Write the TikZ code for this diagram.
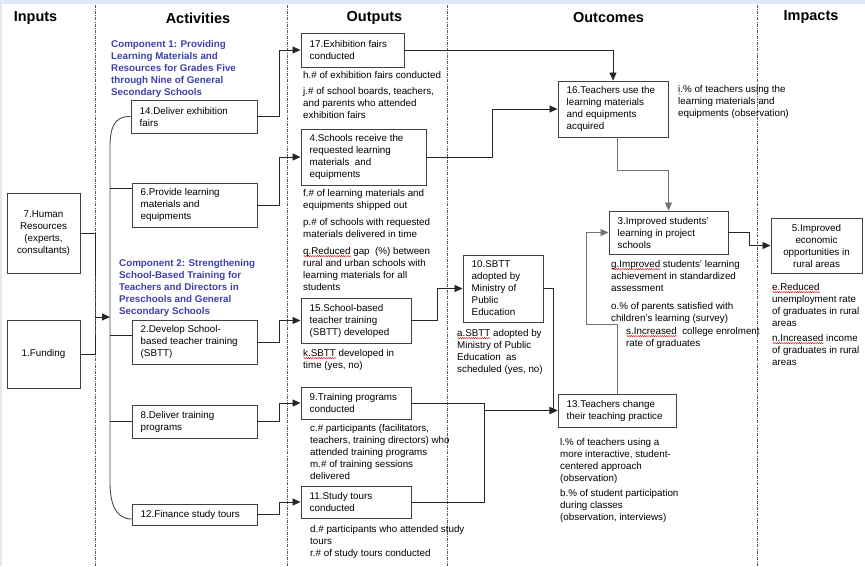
\documentclass[tikz,border=0pt]{standalone}
\usepackage{fontspec}
\setmainfont{Liberation Sans}
\usetikzlibrary{arrows.meta,calc,decorations.pathmorphing}

\definecolor{compblue}{RGB}{64,64,172}
\definecolor{framebg}{RGB}{222,233,245}

\tikzset{
  spellmark/.style={draw=red!85!black, line width=0.4pt, decorate,
    decoration={snake, amplitude=0.6pt, segment length=2.2pt}}
}
% red wavy underline, as left by a spell checker
\newlength\spellwd
\newcommand\spell[1]{\settowidth\spellwd{#1}\rlap{\tikz[baseline=0pt]\draw[spellmark] (0pt,-1.8pt) -- (\spellwd,-1.8pt);}#1}

\begin{document}
\begin{tikzpicture}[x=1pt,y=-1pt,
  font=\fontsize{9.8}{12}\selectfont,
  box/.style={draw=black!75, line width=0.95pt, fill=white, inner sep=0pt},
  boxtxt/.style={align=left, inner sep=0pt, anchor=west},
  note/.style={align=left, inner sep=0pt, anchor=north west},
  hdr/.style={font=\fontsize{14.5}{16}\selectfont\bfseries},
  comp/.style={note, text=compblue, font=\fontsize{9.8}{12}\selectfont\bfseries},
  lane/.style={draw=black!65, line width=0.8pt, dash pattern=on 3pt off 1.2pt on 0.8pt off 1.2pt},
  link/.style={draw=black!85, line width=0.9pt},
  soft/.style={draw=black!55},
  arr/.style={link, -{Triangle[length=8pt,width=7pt]}},
]
\useasboundingbox (0,0) rectangle (865,566);
\fill[framebg] (0,0) rectangle (865,566);
\fill[white] (2,4) rectangle (865,566);

% column separators
\foreach \lx in {95,287,447,757}
  \draw[lane] (\lx,5) -- (\lx,566);

% column headings
\node[hdr] (hInputs) at (35.5,18) {Inputs};
\node[hdr] (hAct) at (198,18) {Activities};
\node[hdr] (hOut) at (374.5,17.5) {Outputs};
\node[hdr] (hOutc) at (608.5,18) {Outcomes};
\node[hdr] (hImp) at (811,17.5) {Impacts};

% component titles
\node[comp] (comp1) at (111,40) {Component 1: Providing\\Learning Materials and\\Resources for Grades Five\\through Nine of General\\Secondary Schools};
\node[comp] (comp2) at (119,259) {Component 2: Strengthening\\School-Based Training for\\Teachers and Directors in\\Preschools and General\\Secondary Schools};

% inputs
\node[box, minimum width=73pt, minimum height=80pt, align=center] (b7) at (43.5,233) {7.Human\\Resources\\(experts,\\consultants)};
\node[box, minimum width=73pt, minimum height=68pt] (b1) at (43.5,354) {1.Funding};

% activities
\node[box, minimum width=126pt, minimum height=33pt] (b14) at (194,116.5) {};
\node[boxtxt] (t14) at ([xshift=9pt]b14.west) {14.Deliver exhibition\\fairs};
\node[box, minimum width=125pt, minimum height=44pt] (b6) at (194.5,205) {};
\node[boxtxt] (t6) at ([xshift=9pt]b6.west) {6.Provide learning\\materials and\\equipments};
\node[box, minimum width=125pt, minimum height=44pt] (b2) at (194.5,342) {};
\node[boxtxt] (t2) at ([xshift=9pt]b2.west) {2.Develop School-\\based teacher training\\(SBTT)};
\node[box, minimum width=125pt, minimum height=33pt] (b8) at (194.5,421.5) {};
\node[boxtxt] (t8) at ([xshift=9pt]b8.west) {8.Deliver training\\programs};
\node[box, minimum width=125pt, minimum height=21pt] (b12) at (194.5,514.5) {};
\node[boxtxt] (t12) at ([xshift=9pt]b12.west) {12.Finance study tours};

% outputs
\node[box, minimum width=103pt, minimum height=34pt] (b17) at (352.5,50) {};
\node[boxtxt] (t17) at ([xshift=9pt]b17.west) {17.Exhibition fairs\\conducted};
\node[box, minimum width=125pt, minimum height=56pt] (b4) at (363.5,157) {};
\node[boxtxt] (t4) at ([xshift=9pt]b4.west) {4.Schools receive the\\requested learning\\materials\ \ and\\equipments};
\node[box, minimum width=110pt, minimum height=45pt] (b15) at (356,320.5) {};
\node[boxtxt] (t15) at ([xshift=9pt]b15.west) {15.School-based\\teacher training\\(SBTT) developed};
\node[box, minimum width=110pt, minimum height=32pt] (b9) at (356,403) {};
\node[boxtxt] (t9) at ([xshift=9pt]b9.west) {9.Training programs\\conducted};
\node[box, minimum width=110pt, minimum height=32pt] (b11) at (356,502) {};
\node[boxtxt] (t11) at ([xshift=9pt]b11.west) {11.Study tours\\conducted};
\node[box, minimum width=80pt, minimum height=67pt] (b10) at (503,288.5) {};
\node[boxtxt] (t10) at ([xshift=9pt]b10.west) {10.SBTT\\adopted by\\Ministry of\\Public\\Education};

% outcomes and impacts
\node[box, minimum width=110pt, minimum height=56pt] (b16) at (613,109) {};
\node[boxtxt] (t16) at ([xshift=9pt]b16.west) {16.Teachers use the\\learning materials\\and equipments\\acquired};
\node[box, minimum width=119pt, minimum height=43pt] (b3) at (668.5,232.5) {};
\node[boxtxt] (t3) at ([xshift=9pt]b3.west) {3.Improved students'\\learning in project\\schools};
\node[box, minimum width=118pt, minimum height=33pt] (b13) at (617,410.5) {};
\node[boxtxt] (t13) at ([xshift=9pt]b13.west) {13.Teachers change\\their teaching practice};
\node[box, minimum width=91pt, minimum height=55pt, align=center] (b5) at (816.5,245.5) {5.Improved\\economic\\opportunities in\\rural areas};

% indicators
\node[note] (n17) at (303,71) {h.\# of exhibition fairs conducted\\[4pt]j.\# of school boards, teachers,\\and parents who attended\\exhibition fairs};
\node[note] (n4) at (303,189) {f.\# of learning materials and\\equipments shipped out\\[5pt]p.\# of schools with requested\\materials delivered in time\\[5pt]\spell{q.Reduced} gap\ \ (\%) between\\rural and urban schools with\\learning materials for all\\students};
\node[note] (n15) at (303,349) {\spell{k.SBTT} developed in\\time (yes, no)};
\node[note] (n10) at (457,329) {\spell{a.SBTT} adopted by\\Ministry of Public\\Education\ \ as\\scheduled (yes, no)};
\node[note] (n9) at (310,424) {c.\# participants (facilitators,\\teachers, training directors) who\\attended training programs\\m.\# of training sessions\\delivered};
\node[note] (n11) at (310,525) {d.\# participants who attended study\\tours\\r.\# of study tours conducted};
\node[note] (n16) at (678,85) {\spell{i}.\% of teachers using the\\learning materials and\\equipments (observation)};
\node[note] (n3) at (611,260) {\spell{g.Improved} students' learning\\achievement in standardized\\assessment\\[6pt]o.\% of parents satisfied with\\children's learning (survey)};
\node[note] (ns) at (626,327) {\spell{s.Increased}\ \ college enrolment\\rate of graduates};
\node[note] (n5) at (772,283) {\spell{e.Reduced}\\unemployment rate\\of graduates in rural\\areas\\[3pt]\spell{n.Increased} income\\of graduates in rural\\areas};
\node[note] (n13) at (560,438) {l.\% of teachers using a\\more interactive, student-\\centered approach\\(observation)\\[3pt]b.\% of student participation\\during classes\\(observation, interviews)};

% inputs feed the activities
\coordinate (jin) at (95,317);
\coordinate (bus) at (110,317);
\draw[link] (b7.east) -| (jin) |- (b1.east);
\draw[arr] (jin) -- (bus);
\draw[link, draw=black!70] (b14.west) .. controls (114,116) and (110,128) .. (110,147)
  -- (110,483) .. controls (110,504) and (116,519) .. ($(b12.west)+(0,4.5)$);
\coordinate (tk6) at (110,188);
\coordinate (tk2) at (110,335);
\draw[link] (tk6) -- (tk6 -| b6.west);
\draw[link] (tk2) -- (tk2 -| b2.west);
\draw[link] (b8.west) -- (b8.west -| bus);

% activities to outputs
\draw[arr] (b14.east) -- ++(22,0) |- (b17.west);
\draw[arr] (b6.east) -- ++(22,0) |- (b4.west);
\draw[arr] (b2.east) -- ++(22,0) |- (b15.west);
\draw[arr] (b8.east) -- ++(22,0) |- (b9.west);
\draw[arr] (b12.east) -- ++(22,0) |- (b11.west);

% outputs to outcomes
\draw[arr] (b17.east) -| (b16.north);
\draw[arr] (b4.east) -- ++(66,0) |- (b16.west);
\draw[arr] (b15.east) -- ++(26,0) |- (b10.west);
\coordinate (m13) at (484,410.5);
\draw[arr] (b9.east) -| (m13) -- (b13.west);
\draw[link] (b11.east) -| (m13);
\draw[arr] (b10.east) -- ++(10,0) |- (b13.west);

% outcomes to impacts
\draw[arr, soft] ($(b16.south)+(4,0)$) -- ++(0,33) -| (b3.north);
\coordinate (k1) at (586,324);
\draw[arr, soft] (b13.north) |- (k1) |- (b3.west);
\draw[arr] (b3.east) -- ++(21,0) |- (b5.west);
\end{tikzpicture}
\end{document}
